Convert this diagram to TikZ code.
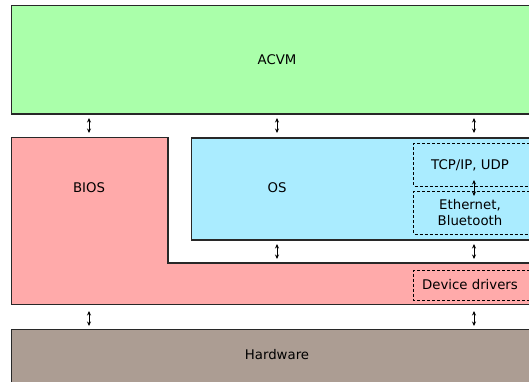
\documentclass[tikz,border=0pt]{standalone}
\usepackage{fontspec}
\setmainfont{DejaVu Sans}
\usetikzlibrary{arrows.meta}
\definecolor{acvmgreen}{RGB}{170,255,170}
\definecolor{biospink}{RGB}{255,170,170}
\definecolor{osblue}{RGB}{170,236,255}
\definecolor{hwbrown}{RGB}{172,157,147}
\definecolor{edge}{RGB}{40,40,40}
\tikzset{
  layer/.style={draw=edge, line width=1.3pt},
  sub/.style={draw=black, line width=0.8pt, dash pattern=on 3pt off 2pt},
  lbl/.style={font=\fontsize{13.3}{16}\selectfont, align=center, inner sep=0pt},
  link/.style={line width=0.9pt, {Stealth[length=4.5pt,width=4pt]}-{Stealth[length=4.5pt,width=4pt]}},
}
\begin{document}
\begin{tikzpicture}[x=1pt,y=-1pt]
\useasboundingbox (0,0) rectangle (529,382);
\clip (0,0) rectangle (529,382);
% layers
\draw[layer, fill=acvmgreen] (540,5.5) -- (11.5,5.5) -- (11.5,114) -- (540,114);
\draw[layer, fill=biospink] (540,263) -- (168,263) -- (168,137.5) -- (11.5,137.5) -- (11.5,304.5) -- (540,304.5);
\draw[layer, fill=osblue] (540,138) -- (191.5,138) -- (191.5,240) -- (540,240);
\fill[hwbrown] (11.5,329.5) rectangle (540,390);
\draw[layer] (11.5,390) -- (11.5,329.5) -- (540,329.5);
% dashed sub-blocks
\draw[sub] (540,143.5) -- (413.5,143.5) -- (413.5,186) -- (540,186);
\draw[sub] (540,191.5) -- (413.5,191.5) -- (413.5,234) -- (540,234);
\draw[sub] (540,270) -- (413.5,270) -- (413.5,300) -- (540,300);
% labels
\node[lbl] (acvm) at (277,60) {ACVM};
\node[lbl] (bios) at (89,188) {BIOS};
\node[lbl] (os) at (277,188) {OS};
\node[lbl] (hw) at (277,355) {Hardware};
\node[lbl] (tcp) at (470,165) {TCP/IP, UDP};
\node[lbl] (eth) at (470,212.5) {Ethernet,\\Bluetooth};
\node[lbl] (drv) at (470,285) {Device drivers};
% interface points
\coordinate (a1) at (89,118);  \coordinate (b1) at (89,133);
\coordinate (a2) at (277,118); \coordinate (b2) at (277,133);
\coordinate (a3) at (474,118); \coordinate (b3) at (474,133);
\coordinate (c1) at (474,180); \coordinate (d1) at (474,196);
\coordinate (c2) at (277,244); \coordinate (d2) at (277,259);
\coordinate (c3) at (474,244); \coordinate (d3) at (474,259);
\coordinate (e1) at (89,311);  \coordinate (f1) at (89,326);
\coordinate (e2) at (474,311); \coordinate (f2) at (474,326);
% connectors
\foreach \p/\q in {a1/b1,a2/b2,a3/b3,c1/d1,c2/d2,c3/d3,e1/f1,e2/f2}
  \draw[link] (\p) -- (\q);
\end{tikzpicture}
\end{document}
